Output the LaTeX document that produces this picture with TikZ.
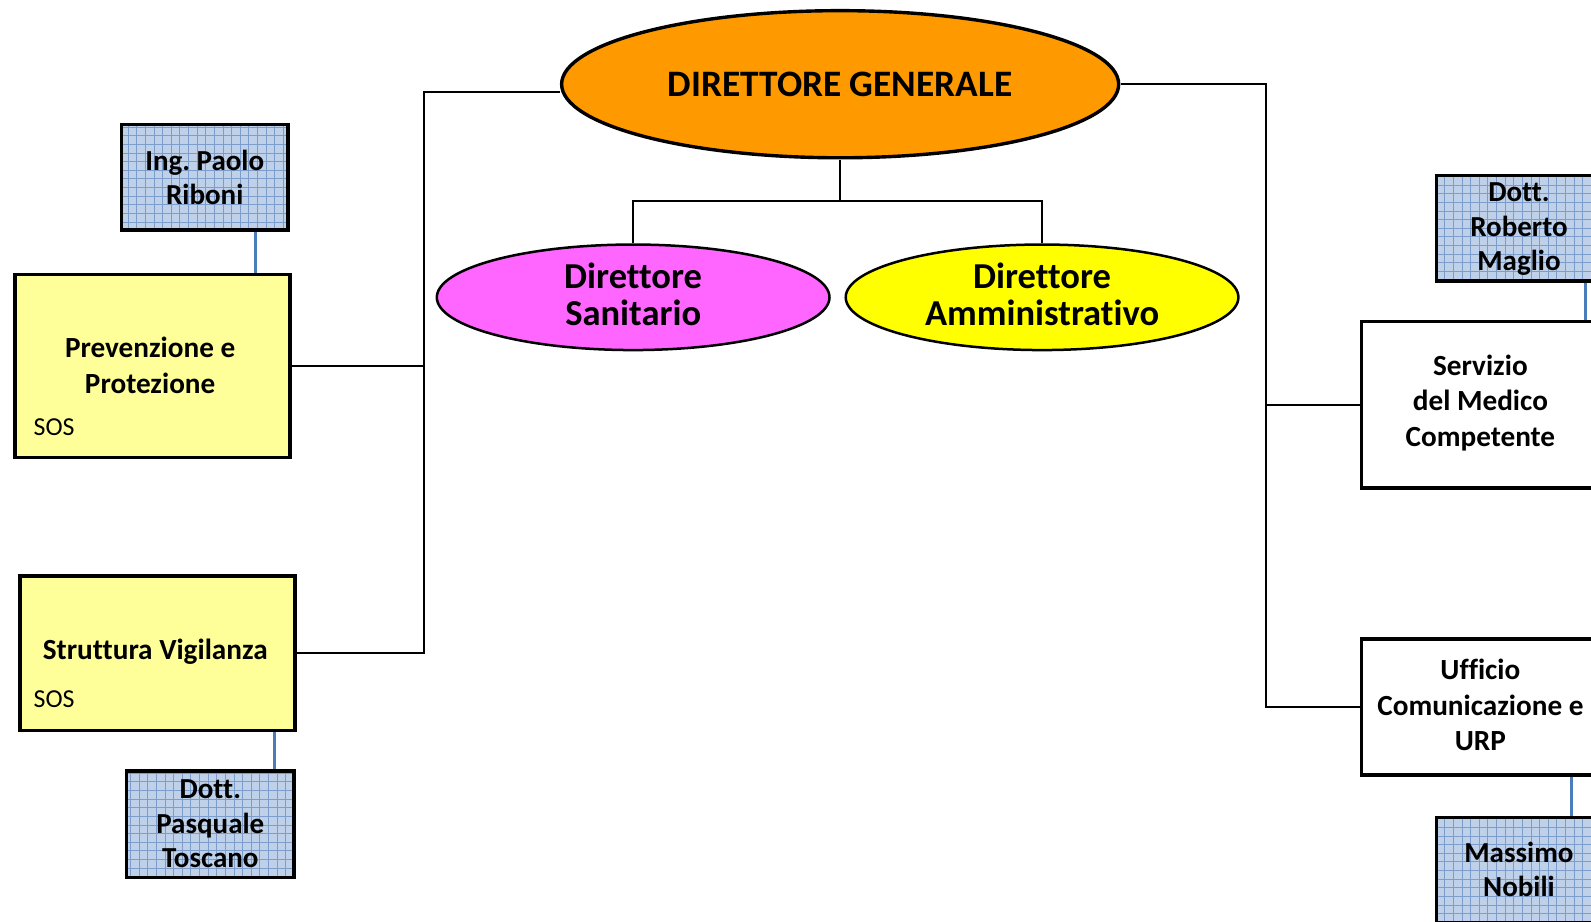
\documentclass[tikz,border=0pt]{standalone}
\usepackage{fontspec}
\setmainfont{Carlito}[Ligatures=NoCommon]
\frenchspacing
\usetikzlibrary{shapes.geometric}
\definecolor{dgorange}{HTML}{FF9900}
\definecolor{dsmagenta}{HTML}{FF66FF}
\definecolor{dayellow}{HTML}{FFFF00}
\definecolor{lightyellow}{HTML}{FFFF99}
\definecolor{gridfill}{HTML}{BFD1E9}
\definecolor{gridline}{HTML}{7C9CCB}
\definecolor{bluelink}{HTML}{4A7EBB}
\begin{document}
\begin{tikzpicture}[x=1pt,y=-1pt,scale=1.0147,every node/.append style={transform shape},
  box/.style={draw=black, line width=3.5pt, rectangle, inner sep=0pt, anchor=north west},
  ybox/.style={box, fill=lightyellow},
  wbox/.style={box, fill=white},
  bbox/.style={box, fill=gridfill, align=center,
    font=\fontsize{28.6}{34}\selectfont\bfseries,
    path picture={\draw[gridline, line width=0.6pt]
      (path picture bounding box.south west) grid[step=8.5pt]
      (path picture bounding box.north east);}},
  boxtext/.style={align=center, inner sep=0pt, font=\fontsize{28.8}{35}\selectfont\bfseries},
  sostext/.style={anchor=west, inner sep=0pt, font=\fontsize{25.5}{28}\selectfont},
  oval/.style={ellipse, draw=black, inner sep=0pt, align=center},
  link/.style={draw=black, line width=2pt},
  bluelinkline/.style={draw=bluelink, line width=3pt}
]
\path[use as bounding box] (0,0) rectangle (1568,908.6);
\clip (0,0) rectangle (1568,908.6);

% ellipses
\node[oval, fill=dgorange, line width=3.4pt, minimum width=549, minimum height=145,
  font=\fontsize{36.8}{40}\selectfont\bfseries] (dg) at (828,83) {DIRETTORE GENERALE};
\node[oval, fill=dsmagenta, line width=2.5pt, minimum width=387, minimum height=104,
  font=\fontsize{36}{37}\selectfont\bfseries] (ds) at (624,293) {};
\node[inner sep=0pt, align=center, font=\fontsize{36}{37}\selectfont\bfseries] (dst) at (624,290) {Direttore\\Sanitario};
\node[oval, fill=dayellow, line width=2.5pt, minimum width=387, minimum height=104,
  font=\fontsize{36}{37}\selectfont\bfseries] (da) at (1027,293) {};
\node[inner sep=0pt, align=center, font=\fontsize{36}{37}\selectfont\bfseries] (dat) at (1027,290) {Direttore\\Amministrativo};

% left boxes
\node[bbox, minimum width=164, minimum height=104] (rib) at (118,121) {Ing. Paolo\\Riboni};
\node[ybox, minimum width=271, minimum height=180] (pp) at (13,269) {};
\node[boxtext] (ppt) at (148,360) {Prevenzione e\\Protezione};
\node[sostext] (pps) at (33,421) {SOS};
\node[ybox, minimum width=271, minimum height=152] (sv) at (18,566) {};
\node[boxtext] (svt) at (153,642) {Struttura Vigilanza};
\node[sostext] (svs) at (33,689) {SOS};
\node[bbox, minimum width=165, minimum height=105] (tos) at (123,758) {Dott.\\Pasquale\\Toscano};

% right boxes
\node[bbox, minimum width=220, minimum height=104] (mag) at (1414,171) {};
\node[boxtext, font=\fontsize{28.6}{34}\selectfont\bfseries] (magt) at (1497,226) {Dott.\\Roberto\\Maglio};
\node[wbox, minimum width=300, minimum height=164] (sm) at (1340,315) {};
\node[boxtext] (smt) at (1459,397) {Servizio\\del Medico\\Competente};
\node[wbox, minimum width=300, minimum height=134] (uc) at (1340,628) {};
\node[boxtext] (uct) at (1459,695) {Ufficio\\Comunicazione e\\URP};
\node[bbox, minimum width=220, minimum height=104] (nob) at (1414,804) {};
\node[boxtext, font=\fontsize{28.6}{34}\selectfont\bfseries] (nobt) at (1497,857) {Massimo\\Nobili};

% connectors
\coordinate (jt) at (828,198);
\coordinate (L) at (418,0);
\coordinate (R) at (1247,0);
\draw[link] (dg.south) -- (jt);
\draw[link] (ds.north) |- (jt) -| (da.north);
\draw[link] (dg.west |- 0,91) -| (sv.east -| L) -- (sv.east);
\draw[link] (pp.east) -- (pp.east -| L);
\draw[link] (dg.east) -| (uc.west -| R) -- (uc.west);
\draw[link] (sm.west) -- (sm.west -| R);

% blue links
\draw[bluelinkline] (rib.south -| 252,0) -- (pp.north -| 252,0);
\draw[bluelinkline] (sv.south -| 271,0) -- (tos.north -| 271,0);
\draw[bluelinkline] (mag.south -| 1563,0) -- (sm.north -| 1563,0);
\draw[bluelinkline] (uc.south -| 1549,0) -- (nob.north -| 1549,0);
\end{tikzpicture}
\end{document}
